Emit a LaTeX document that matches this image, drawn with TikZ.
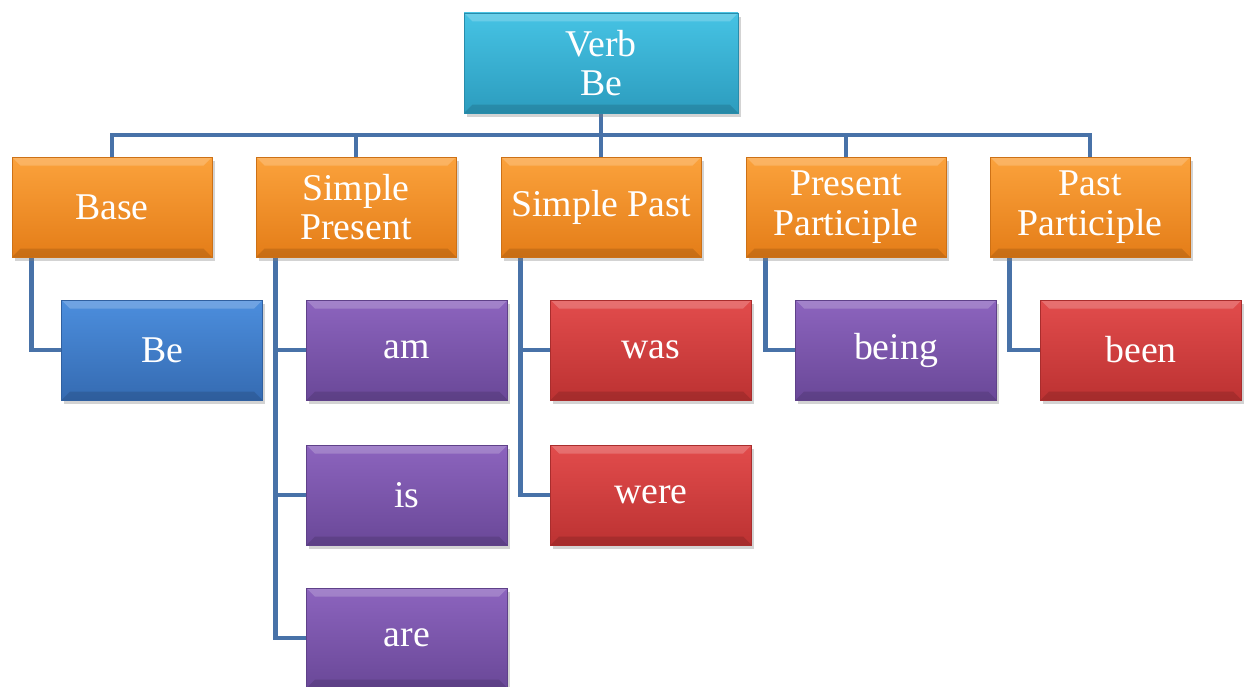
\documentclass[tikz,border=0pt]{standalone}
\usepackage{fontspec}
\setmainfont{Liberation Serif}
\usetikzlibrary{shadows,positioning,backgrounds}

\definecolor{linkblue}{HTML}{4872A8}
\definecolor{cyantop}{HTML}{46C3E4}
\definecolor{cyanbot}{HTML}{2C9CBE}
\definecolor{orangetop}{HTML}{FBA23C}
\definecolor{orangebot}{HTML}{E47D18}
\definecolor{bluetop}{HTML}{4C8EDD}
\definecolor{bluebot}{HTML}{356BB2}
\definecolor{purpletop}{HTML}{8C64BE}
\definecolor{purplebot}{HTML}{6A4898}
\definecolor{redtop}{HTML}{E24C4C}
\definecolor{redbot}{HTML}{BC3232}

\tikzset{
    box/.style={rectangle, minimum width=4cm, minimum height=2cm, inner sep=0pt,
        text=white, align=center, font=\fontsize{21.5}{22.5}\selectfont,
        drop shadow={shadow xshift=0.05cm, shadow yshift=-0.07cm, opacity=0.35},
        path picture={
            \fill[white, opacity=0.2]
                (path picture bounding box.north west) -- (path picture bounding box.north east)
                -- ([shift={(-0.17,-0.17)}]path picture bounding box.north east)
                -- ([shift={(0.17,-0.17)}]path picture bounding box.north west) -- cycle;
            \fill[black, opacity=0.12]
                (path picture bounding box.south west) -- (path picture bounding box.south east)
                -- ([shift={(-0.17,0.17)}]path picture bounding box.south east)
                -- ([shift={(0.17,0.17)}]path picture bounding box.south west) -- cycle;
        }},
    verbbox/.style={box, top color=cyantop, bottom color=cyanbot, draw=cyanbot!90!black, minimum width=5.48cm},
    formbox/.style={box, top color=orangetop, bottom color=orangebot, draw=orangebot!90!black},
    basebox/.style={box, top color=bluetop, bottom color=bluebot, draw=bluebot!90!black, minimum width=4.02cm},
    lilabox/.style={box, top color=purpletop, bottom color=purplebot, draw=purplebot!90!black, minimum width=4.02cm},
    redbox/.style={box, top color=redtop, bottom color=redbot, draw=redbot!90!black, minimum width=4.02cm},
    link/.style={draw=linkblue, line width=2.8pt}
}

\begin{document}
\begin{tikzpicture}
    \useasboundingbox (0,0) rectangle (24.88,-13.74);

    % top of the tree
    \node[verbbox] (verb) at (12.02,-1.26) {Verb\\Be};
    \coordinate (hub) at (12.02,-2.7);

    % the five forms
    \node[formbox] (base) at (2.24,-4.14) {Base};
    \node[formbox] (simplepresent) at (7.12,-4.14) {Simple\\Present};
    \node[formbox] (simplepast) at (12.02,-4.14) {Simple Past};
    \node[formbox] (presentpart) at (16.92,-4.14) {Present\\Participle};
    \node[formbox] (pastpart) at (21.8,-4.14) {Past\\Participle};

    % the words
    \node[basebox] (be) at (3.24,-7.0) {Be};
    \node[lilabox] (am) at (8.14,-7.0) {am};
    \node[lilabox] (is) at (8.14,-9.9) {is};
    \node[lilabox] (are) at (8.14,-12.76) {are};
    \node[redbox] (was) at (13.02,-7.0) {was};
    \node[redbox] (were) at (13.02,-9.9) {were};
    \node[lilabox] (being) at (17.92,-7.0) {being};
    \node[redbox] (been) at (22.82,-7.0) {been};

    \begin{scope}[on background layer]
    \draw[link] (verb.south) -- (hub);
    \foreach \f in {base,simplepresent,simplepast,presentpart,pastpart}
        \draw[link] (hub) -| (\f.north);
    \draw[link] ([xshift=0.4cm]base.south west) |- (be.west);
    \foreach \w in {am,is,are}
        \draw[link] ([xshift=0.4cm]simplepresent.south west) |- (\w.west);
    \foreach \w in {was,were}
        \draw[link] ([xshift=0.4cm]simplepast.south west) |- (\w.west);
    \draw[link] ([xshift=0.4cm]presentpart.south west) |- (being.west);
    \draw[link] ([xshift=0.4cm]pastpart.south west) |- (been.west);
    \end{scope}
\end{tikzpicture}
\end{document}
